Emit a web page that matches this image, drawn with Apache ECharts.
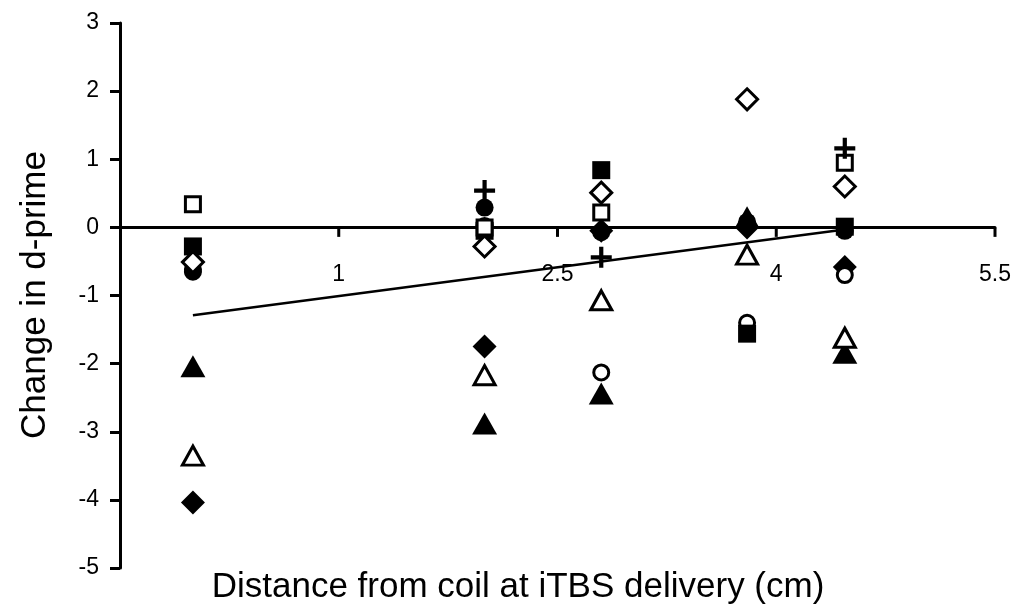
<!DOCTYPE html>
<html>
<head>
<meta charset="utf-8">
<script src="https://cdn.jsdelivr.net/npm/echarts@6/dist/echarts.min.js"></script>
<style>html,body{margin:0;padding:0;background:#fff}#c{width:1016px;height:608px}</style>
</head>
<body>
<div id="c"></div>
<script>
// Distances (cm) of the five columns of points
const distances = [0.0, 2.0, 2.8, 3.8, 4.47];
// Change in d-prime per marker series (null = not visible / no point)
const openSquare     = [0.34, 0.00, 0.22, null, 0.95];
const filledSquare   = [-0.28, -0.05, 0.84, -1.56, 0.01];
const openDiamond    = [-0.51, -0.28, 0.51, 1.88, 0.60];
const filledDiamond  = [-4.04, -1.75, -0.05, 0.00, -0.58];
const openCircle     = [-0.62, 0.02, -2.13, -1.40, -0.70];
const filledCircle   = [-0.65, 0.29, -0.07, 0.08, -0.05];
const openTriangle   = [-3.35, -2.17, -1.07, -0.40, -1.62];
const filledTriangle = [-2.04, -2.88, -2.44, 0.15, -1.84];
const plusMark       = [null, 0.54, -0.44, null, 1.16];
// Linear trend line end points
const trendX = [0.0, 4.47];
const trendY = [-1.29, -0.03];
// Axis tick labels / tick positions
const xTickLabels = ['1', '2.5', '4', '5.5'];
const xTickValues = [1, 2.5, 4, 5.5];
const yTickLabels = ['-5', '-4', '-3', '-2', '-1', '0', '1', '2', '3'];

const pts = arr => distances.map((d, i) => [d, arr[i]]).filter(p => p[1] !== null);
const PLUS = 'path://M4,0h2v4h4v2h-4v4h-2v-4h-4v-2h4z';

function sc(name, data, symbol, size, open) {
  return {
    name, type: 'scatter', data: pts(data), symbol, symbolSize: size,
    itemStyle: open ? { color: '#fff', borderColor: '#000', borderWidth: 3, opacity: 1 } : { color: '#000', borderWidth: 0, opacity: 1 },
    z: 3
  };
}

const chart = echarts.init(document.getElementById('c'), null, { renderer: 'canvas' });
chart.setOption({
  animation: false,
  backgroundColor: '#fff',
  grid: { left: 120, right: 21, top: 23, bottom: 40 },
  xAxis: {
    type: 'value', min: -0.5, max: 5.5, interval: 1.5,
    axisLine: { onZero: true, lineStyle: { color: '#000', width: 3 } },
    axisTick: { show: false },
    axisLabel: {
      margin: -305, color: '#000', fontSize: 23, fontFamily: 'Liberation Sans',
      formatter: v => { const s = String(Math.round(v * 10) / 10); return xTickLabels.includes(s) ? s : ''; }
    },
    splitLine: { show: false }
  },
  yAxis: {
    type: 'value', min: -5, max: 3, interval: 1,
    axisLine: { show: true, onZero: false, lineStyle: { color: '#000', width: 3 } },
    axisTick: { show: true, length: 10, lineStyle: { color: '#000', width: 3 } },
    axisLabel: {
      margin: 21, color: '#000', fontSize: 23, fontFamily: 'Liberation Sans',
      formatter: v => { const s = String(Math.round(v)); return yTickLabels.includes(s) ? s : ''; }
    },
    splitLine: { show: false }
  },
  graphic: [
    { type: 'text', x: 518, y: 570, style: { text: 'Distance from coil at iTBS delivery (cm)', fontSize: 35, fontFamily: 'Liberation Sans', fill: '#000', align: 'center', verticalAlign: 'top' } },
    { type: 'text', x: 35, y: 295, rotation: Math.PI / 2, style: { text: 'Change in d-prime', fontSize: 35, fontFamily: 'Liberation Sans', fill: '#000', align: 'center', verticalAlign: 'middle' } }
  ],
  series: [
    { name: 'xticks', type: 'scatter', data: xTickValues.map(v => [v, 0]), symbol: 'rect', symbolSize: [3, 9], symbolOffset: [0, 5],
      itemStyle: { color: '#000', opacity: 1 }, silent: true, z: 1, clip: false },
    { name: 'trend', type: 'line', data: trendX.map((x, i) => [x, trendY[i]]), symbol: 'none', lineStyle: { color: '#000', width: 2.5 }, z: 2 },
    sc('filledTriangle', filledTriangle, 'triangle', [25, 22], false),
    sc('openTriangle', openTriangle, 'triangle', [21, 19], true),
    sc('filledDiamond', filledDiamond, 'diamond', [24, 24], false),
    sc('openCircle', openCircle, 'circle', 15, true),
    sc('filledCircle', filledCircle, 'circle', 18, false),
    sc('filledSquare', filledSquare, 'rect', 18, false),
    sc('openDiamond', openDiamond, 'diamond', [21, 21], true),
    sc('openSquare', openSquare, 'rect', 15, true),
    sc('plus', plusMark, PLUS, 21, false)
  ]
});
</script>
</body>
</html>
